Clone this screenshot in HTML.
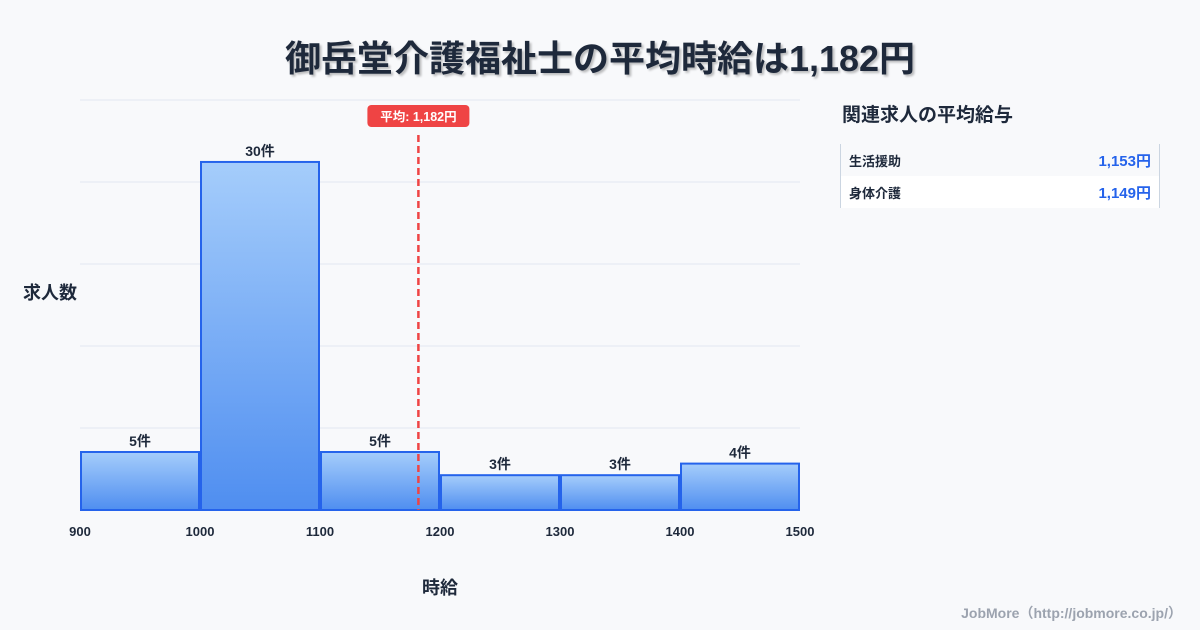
<!DOCTYPE html>
<html><head><meta charset="utf-8"><style>
body{margin:0;width:1200px;height:630px;background:#f8f9fb;font-family:"Liberation Sans","Noto Sans CJK JP",sans-serif;overflow:hidden;position:relative}
.t{position:absolute;left:0;width:1200px;top:30px;text-align:center;font-size:36px;font-weight:bold;color:#1e293b;text-shadow:2px 2px 2px rgba(0,0,0,0.25)}
.side{position:absolute;left:840px;top:100px;width:320px}
.side h2{margin:0 0 0 2px;font-size:19px;color:#1e293b;font-weight:bold}
.tbl{margin-top:17px;border-left:1px solid #cbd5e1;border-right:1px solid #cbd5e1}
.row{height:32px;display:flex;justify-content:space-between;align-items:center;padding:0 8px 0 8px;font-size:13px;font-weight:bold;color:#1e293b}
.row span:last-child{color:#2563eb;font-size:15px}
.foot{position:absolute;right:18px;top:603px;font-size:14px;color:#9ca3af;font-weight:bold}
</style></head><body>
<div class="t">御岳堂介護福祉士の平均時給は1,182円</div>
<svg id="c" width="1200" height="630" style="position:absolute;left:0;top:0">
<defs><linearGradient id="g" x1="0" y1="0" x2="0" y2="1"><stop offset="0" stop-color="#a5cdfb"/><stop offset="1" stop-color="#4f8ef0"/></linearGradient></defs>
</svg>
<div class="side">
<h2>関連求人の平均給与</h2>
<div class="tbl">
<div class="row" style="background:#f8f9fb"><span>生活援助</span><span>1,153円</span></div>
<div class="row" style="background:#fff"><span>身体介護</span><span>1,149円</span></div>
</div></div>
<div class="foot">JobMore（http://jobmore.co.jp/）</div>
<script>
const binStarts=[900,1000,1100,1200,1300,1400];
const binWidth=100;
const counts=[5,30,5,3,3,4];
const xTicks=[900,1000,1100,1200,1300,1400,1500];
const meanValue=1182;
const meanLabel="平均: 1,182円";
const ns="http://www.w3.org/2000/svg",svg=document.getElementById('c');
const X0=80,X1=800,Y0=510,Y1=100,xmin=900,xmax=1500,ymax=35.34;
const x=v=>X0+(v-xmin)/(xmax-xmin)*(X1-X0);
const y=v=>Y0-v/ymax*(Y0-Y1);
function el(t,a,txt){const e=document.createElementNS(ns,t);for(const k in a)e.setAttribute(k,a[k]);if(txt!=null)e.textContent=txt;svg.appendChild(e);return e;}
for(let i=0;i<=5;i++){const gy=Y1+i*(Y0-Y1)/5;const g=el('line',{x1:X0,x2:X1,y1:gy,y2:gy,stroke:'#e2e8f0','stroke-width':1});

}
counts.forEach((c,i)=>{const xa=x(binStarts[i])+1,xb=x(binStarts[i]+binWidth)-1;
const r=el('rect',{x:xa,y:y(c),width:xb-xa,height:Y0-y(c),fill:'url(#g)',stroke:'#2563eb','stroke-width':2});


const l=el('text',{x:(xa+xb)/2,y:y(c)-6,'text-anchor':'middle','font-size':14,'font-weight':'bold',fill:'#1e293b'},c+'件');

});
xTicks.forEach(v=>{const t=el('text',{x:x(v),y:536,'text-anchor':'middle','font-size':13,'font-weight':'bold',fill:'#1e293b'},v);

});
const mx=x(meanValue);
const ml=el('line',{x1:mx,x2:mx,y1:135,y2:Y0,stroke:'#ef4444','stroke-width':2.5,'stroke-dasharray':'7,4'});


const mb=el('rect',{x:mx-51,y:105,width:102,height:22,rx:4,fill:'#ef4444'});


const mt=el('text',{x:mx,y:121,'text-anchor':'middle','font-size':12.5,'font-weight':'bold',fill:'#fff'},meanLabel);


const yt=el('text',{x:50,y:299,'text-anchor':'middle','font-size':18,'font-weight':'bold',fill:'#1e293b'},'求人数');


const xt=el('text',{x:440,y:594,'text-anchor':'middle','font-size':18,'font-weight':'bold',fill:'#1e293b'},'時給');


</script>
</body></html>
